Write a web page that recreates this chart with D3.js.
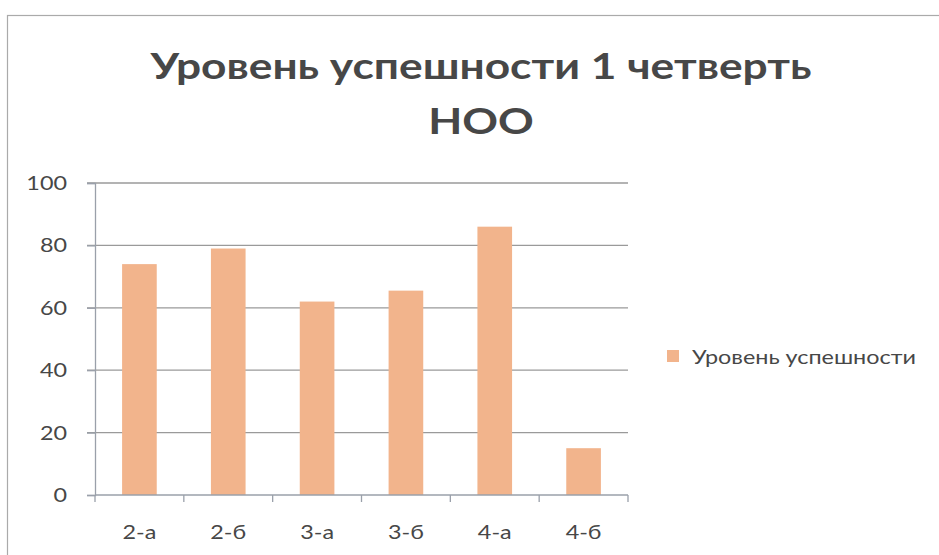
<!DOCTYPE html>
<html><head><meta charset="utf-8">
<script src="https://cdn.jsdelivr.net/npm/d3@7"></script>
<style>body{margin:0;background:#fff;} svg{display:block;}</style>
</head><body>
<svg id="c" width="939" height="555"></svg>
<script>
const categories = ["2-а", "2-б", "3-а", "3-б", "4-а", "4-б"];
const values = [74, 79, 62, 65.5, 86, 15];
const seriesName = "Уровень успешности";
const yTicks = [0, 20, 40, 60, 80, 100];
const titleLines = ["Уровень успешности 1 четверть", "НОО"];

const svg = d3.select("#c");
const font = "Lato, 'Open Sans', sans-serif";
const sx = 1.23; // horizontal stretch of the text
const m = {left: 95, right: 628, top: 183, bottom: 495};
const txtCol = "#474747", axCol = "#9aa0aa", barCol = "#f2b48c";

svg.append("rect").attr("x", 7.5).attr("y", 15.5).attr("width", 940).attr("height", 560)
  .attr("fill", "#fff").attr("stroke", "#aaa").attr("stroke-width", 1.2);

const x = d3.scaleBand().domain(categories).range([m.left, m.right]).paddingInner(0.61).paddingOuter(0.305);
const y = d3.scaleLinear().domain([0, 100]).range([m.bottom, m.top]);

// grid
svg.append("g").selectAll("line").data(yTicks.filter(d => d > 0)).join("line")
  .attr("x1", m.left - 8).attr("x2", m.right).attr("y1", d => y(d)).attr("y2", d => y(d))
  .attr("stroke", "#9a9a9a").attr("stroke-width", 1.3);

// bars
svg.append("g").selectAll("rect").data(values).join("rect")
  .attr("x", (d, i) => x(categories[i])).attr("width", x.bandwidth())
  .attr("y", d => y(d)).attr("height", d => y(0) - y(d))
  .attr("fill", barCol);

// y axis
const ya = svg.append("g").attr("transform", `translate(${m.left},0)`)
  .call(d3.axisLeft(y).tickValues(yTicks).tickSize(8).tickPadding(0).tickFormat(() => ""));
ya.select(".domain").attr("stroke", axCol).attr("stroke-width", 1.3);
ya.selectAll(".tick line").attr("stroke", axCol).attr("stroke-width", 1.3);
svg.append("g").selectAll("text").data(yTicks).join("text")
  .attr("transform", d => `translate(67,${y(d) + 7}) scale(${sx},1)`)
  .attr("text-anchor", "end").attr("font-family", font).attr("font-size", 19).attr("fill", txtCol)
  .text(d => d);

// x axis
const xa = svg.append("g").attr("transform", `translate(0,${m.bottom})`);
xa.append("line").attr("x1", m.left).attr("x2", m.right).attr("stroke", axCol).attr("stroke-width", 1.3);
xa.selectAll("line.t").data(d3.range(categories.length + 1)).join("line").attr("class", "t")
  .attr("x1", i => m.left + i * (m.right - m.left) / categories.length)
  .attr("x2", i => m.left + i * (m.right - m.left) / categories.length)
  .attr("y1", 0).attr("y2", 7).attr("stroke", axCol).attr("stroke-width", 1.3);
xa.selectAll("text").data(categories).join("text")
  .attr("transform", d => `translate(${x(d) + x.bandwidth() / 2},44) scale(${sx},1)`)
  .attr("text-anchor", "middle").attr("font-family", font).attr("font-size", 19).attr("fill", txtCol)
  .text(d => d);

// title
svg.append("g").selectAll("text").data(titleLines).join("text")
  .attr("transform", (d, i) => `translate(481,${79 + i * 55}) scale(${sx},1)`)
  .attr("text-anchor", "middle").attr("font-family", font).attr("font-weight", "bold")
  .attr("font-size", 36).attr("fill", txtCol).text(d => d);

// legend
svg.append("rect").attr("x", 667).attr("y", 350).attr("width", 12).attr("height", 12).attr("fill", barCol);
svg.append("text").attr("transform", `translate(692,364) scale(${sx},1)`)
  .attr("font-family", font).attr("font-size", 19).attr("fill", txtCol).text(seriesName);
</script>
</body></html>
